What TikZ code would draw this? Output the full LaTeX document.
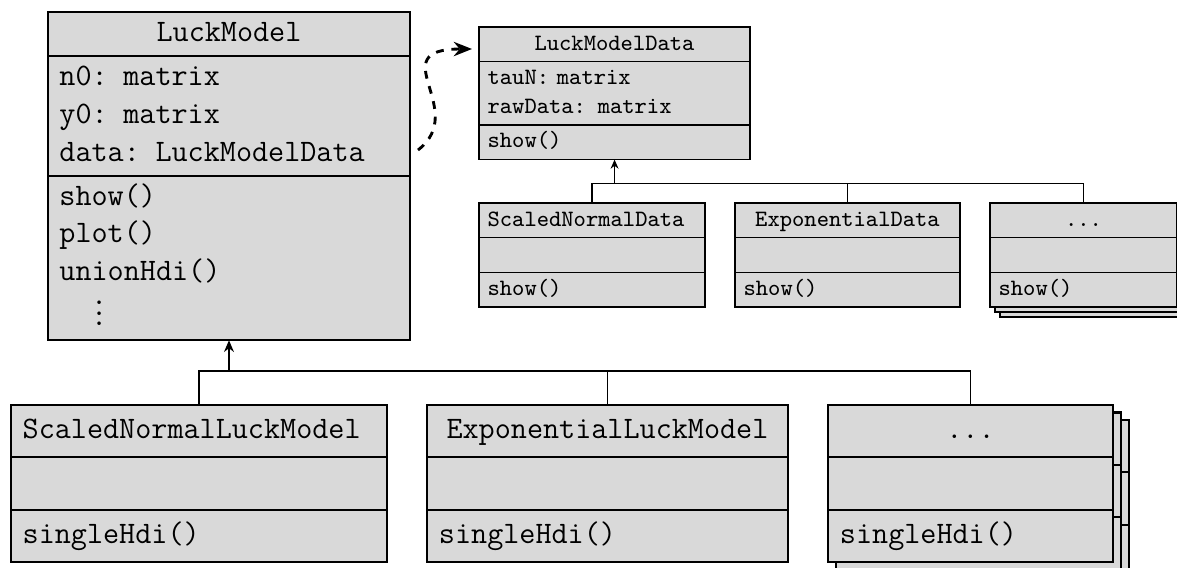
\documentclass[tikz,border=0pt]{standalone}
\usepackage{tikz}
\usetikzlibrary{shapes.multipart,arrows.meta}

\newcommand{\classtitle}[1]{\hbox to\hsize{\strut\hfil#1\hfil}}

\tikzset{
  classbox/.style={rectangle split, rectangle split parts=3, draw, fill=black!15,
    line width=0.8pt, outer sep=0pt, anchor=north west, align=left,
    font=\fontsize{12}{14.5}\selectfont\ttfamily, inner xsep=4.4pt, inner ysep=0.8pt},
  subbox/.style={classbox, inner xsep=4.6pt, inner ysep=2.4pt},
  smallbox/.style={classbox, line width=0.5pt,
    font=\fontsize{9}{11}\selectfont\ttfamily, inner xsep=3.3pt, inner ysep=0.9pt},
  inherit/.style={line width=0.6pt, -{Stealth[length=4.5pt,width=3.8pt]}},
  smallinherit/.style={line width=0.45pt, -{Stealth[length=3.5pt,width=3pt]}},
  assoc/.style={line width=1.1pt, dashed, -{Stealth[length=7pt,width=5.5pt]}},
}

\begin{document}
\begin{tikzpicture}[x=0.384pt, y=-0.384pt]
  \useasboundingbox (0,0) rectangle (1177,567);

  % base class
  \node[classbox, text width=130.2pt] (model) at (48,12) {\classtitle{LuckModel}
    \nodepart{two}\strut n0: matrix\\ y0: matrix\\ data: LuckModelData\strut
    \nodepart{three}\strut show()\\ plot()\\ unionHdi()\\ ~~\hspace*{4.2pt}\vdots\strut};

  % data class
  \node[smallbox, text width=97.5pt] (data) at (479,27) {\classtitle{LuckModelData}
    \nodepart{two}\strut tauN: matrix\\ rawData: matrix\strut
    \nodepart{three}\strut show()};

  % data subclasses
  \node[smallbox, text width=80.2pt] (sndata) at (479,203) {\strut ScaledNormalData
    \nodepart{two}\strut
    \nodepart{three}\strut show()};
  \node[smallbox, text width=79.8pt] (expdata) at (735,203) {\classtitle{ExponentialData}
    \nodepart{two}\strut
    \nodepart{three}\strut show()};
  \foreach \d/\nm in {10/etcdataC, 5/etcdataB}
    \node[smallbox, text width=65.2pt] (\nm) at (990+\d,203+\d) {\strut
      \nodepart{two}\strut
      \nodepart{three}\strut};
  \node[smallbox, text width=65.2pt] (etcdata) at (990,203) {\classtitle{...}
    \nodepart{two}\strut
    \nodepart{three}\strut show()};

  % model subclasses
  \node[subbox, text width=135.2pt] (sn) at (10.7,405) {\strut ScaledNormalLuckModel
    \nodepart{two}\strut
    \nodepart{three}\strut singleHdi()};
  \node[subbox, text width=129.4pt] (exp) at (427,405) {\classtitle{ExponentialLuckModel}
    \nodepart{two}\strut
    \nodepart{three}\strut singleHdi()};
  \foreach \dx/\dy/\nm in {16/15/etcC, 8/7.5/etcB}
    \node[subbox, text width=100.2pt] (\nm) at (828+\dx,405+\dy) {\strut
      \nodepart{two}\strut
      \nodepart{three}\strut};
  \node[subbox, text width=100.2pt] (etc) at (828,405) {\classtitle{...}
    \nodepart{two}\strut
    \nodepart{three}\strut singleHdi()};

  % inheritance
  \coordinate (modelbus) at ([shift={(0,31)}]model.south);
  \draw[inherit] (modelbus) -- (model.south);
  \draw[line width=0.6pt] (sn.north) |- (modelbus) -| (exp.north);
  \draw[line width=0.6pt] (exp.north |- modelbus) -| (etc.north);

  \coordinate (databus) at ([shift={(0,24)}]data.south);
  \draw[smallinherit] (databus) -- (data.south);
  \draw[line width=0.45pt] (sndata.north) |- (databus) -| (expdata.north);
  \draw[line width=0.45pt] (expdata.north |- databus) -| (etcdata.north);

  % association
  \coordinate (datafield) at ([shift={(8,138)}]model.north east);
  \draw[assoc] (datafield) .. controls +(52,-40) and +(-92,0) .. ([shift={(-7,22)}]data.north west);
\end{tikzpicture}
\end{document}
